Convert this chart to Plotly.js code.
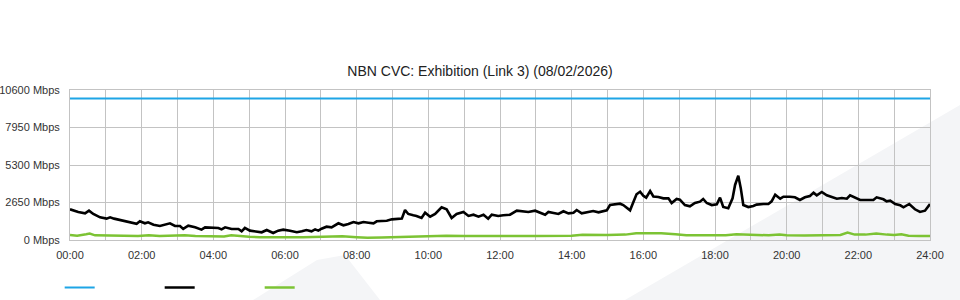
<!DOCTYPE html>
<html>
<head>
<meta charset="utf-8">
<script src="https://cdn.plot.ly/plotly-3.0.1.min.js"></script>
<style>
  html, body { margin: 0; padding: 0; background: #ffffff; }
  #chart { width: 960px; height: 300px; }
</style>
</head>
<body>
<div id="chart"></div>
<script>
// ---- data (time in hours since 00:00, values in Mbps) ----
const capacityTime = [0, 24];
const capacityMbps = [10000, 10000];

const trafficTime = [
  0.00,0.23,0.42,0.53,0.65,0.84,1.02,1.12,1.23,1.40,1.58,1.77,1.86,1.95,2.09,2.18,2.33,2.51,2.65,2.79,
  2.93,3.07,3.16,3.30,3.49,3.67,3.77,3.95,4.14,4.23,4.33,4.51,4.70,4.79,4.88,5.02,5.21,5.35,5.49,5.58,
  5.67,5.81,5.95,6.14,6.33,6.47,6.60,6.74,6.84,6.93,7.02,7.16,7.30,7.49,7.63,7.77,7.91,8.05,8.19,8.33,
  8.47,8.56,8.70,8.84,8.98,9.12,9.26,9.35,9.44,9.58,9.67,9.81,9.91,10.05,10.19,10.37,10.51,10.65,10.79,10.98,
  11.12,11.26,11.40,11.54,11.67,11.77,11.95,12.09,12.28,12.47,12.61,12.79,12.98,13.12,13.26,13.35,13.49,13.63,13.77,13.91,
  14.05,14.14,14.28,14.42,14.60,14.75,14.88,14.98,15.07,15.21,15.35,15.44,15.53,15.63,15.72,15.81,15.91,16.00,16.08,16.19,
  16.28,16.42,16.56,16.70,16.79,16.93,17.02,17.16,17.30,17.44,17.58,17.67,17.77,17.91,18.05,18.14,18.23,18.37,18.49,18.56,
  18.65,18.72,18.79,18.93,19.07,19.16,19.35,19.49,19.58,19.68,19.82,19.91,20.09,20.23,20.37,20.51,20.65,20.75,20.84,20.98,
  21.12,21.26,21.40,21.54,21.68,21.77,21.91,22.05,22.24,22.42,22.51,22.70,22.79,22.89,23.03,23.17,23.26,23.42,23.58,23.72,
  23.86,24.00
];
const trafficMbps = [
  2170,1980,1885,2070,1840,1600,1510,1600,1510,1410,1270,1150,1150,1320,1180,1250,1080,990,1080,1180,
  990,990,780,1010,895,730,895,850,850,750,895,780,780,615,850,660,590,545,705,590,
  495,660,730,660,545,615,705,615,750,660,800,940,895,1180,1040,1130,1270,1180,1270,1225,
  1180,1320,1320,1365,1460,1460,1510,2120,1840,1745,1700,1555,1930,1650,1840,2310,2170,1555,1840,1980,
  1700,1790,1650,1790,1510,1790,1700,1745,1790,2070,2030,1980,2070,1930,1790,1980,1885,1840,2030,1885,
  1930,2120,1885,1955,2050,1955,2050,2095,2470,2520,2565,2470,2285,2095,2660,3230,3415,3130,2990,3460,
  3080,3040,2945,2945,2615,2900,2850,2470,2380,2615,2710,2900,2615,2470,2520,2990,2330,2240,2945,3890,
  4545,3650,2470,2330,2400,2500,2545,2545,2730,3200,2920,3060,3060,3015,2830,3015,3110,3345,3155,3390,
  3155,3015,2920,2965,2920,3155,2965,2830,2830,2830,3015,2875,2730,2780,2545,2450,2310,2545,2170,1980,
  2070,2545
];

const uploadTime = [
  0,0.2,0.45,0.55,0.7,1.0,1.5,1.9,2.2,2.5,3.0,3.2,3.5,4.0,4.3,4.5,4.8,5.0,5.3,5.6,
  6.0,6.5,7.0,7.3,7.6,8.0,8.3,8.7,9.0,9.3,9.6,10.0,10.5,11.0,11.5,12.0,12.5,13.0,13.5,14.0,
  14.3,14.7,15.0,15.5,15.8,16.2,16.5,16.9,17.2,17.6,18.0,18.3,18.6,19.0,19.5,19.8,20.0,20.5,21.0,21.5,
  21.7,21.9,22.2,22.5,22.8,23.0,23.2,23.4,23.7,24.0
];
const uploadMbps = [
  350,300,400,450,330,300,300,280,330,280,300,330,280,280,250,330,260,230,200,180,
  200,200,210,260,260,200,160,180,200,260,280,280,300,280,300,290,290,280,290,300,
  375,350,350,380,470,480,470,400,330,330,300,330,400,350,330,380,330,320,350,350,
  520,380,380,450,380,350,400,300,280,280
];

const xTickVals = [0,2,4,6,8,10,12,14,16,18,20,22,24];
const xTickText = ["00:00","02:00","04:00","06:00","08:00","10:00","12:00","14:00","16:00","18:00","20:00","22:00","24:00"];
const yTickVals = [0,2650,5300,7950,10600];
const yTickText = ["0 Mbps","2650 Mbps","5300 Mbps","7950 Mbps","10600 Mbps"];

// ---- layout helpers (pixel -> paper) for the faint background watermark ----
const PL = 70, PR = 930, PT = 90, PB = 240;
function px(x) { return ((x - PL) / (PR - PL)).toFixed(4); }
function py(y) { return ((PB - y) / (PB - PT)).toFixed(4); }
const wm1 = `M ${px(625)} ${py(300)} L ${px(960)} ${py(105)} L ${px(960)} ${py(300)} Z`;
const wm2 = `M ${px(253)} ${py(300)} L ${px(317)} ${py(260)} L ${px(345)} ${py(255)} L ${px(380)} ${py(300)} Z`;

const gridCol = '#c3c3c3';
const font = { family: '"Liberation Sans", Arial, sans-serif', size: 11, color: '#333333' };

const traces = [
  { x: capacityTime, y: capacityMbps, name: '', type: 'scatter', mode: 'lines',
    line: { color: '#1ea5e6', width: 2.2 }, hoverinfo: 'skip' },
  { x: trafficTime, y: trafficMbps, name: '', type: 'scatter', mode: 'lines',
    line: { color: '#000000', width: 2.6 }, hoverinfo: 'skip' },
  { x: uploadTime, y: uploadMbps, name: '', type: 'scatter', mode: 'lines',
    line: { color: '#7cc334', width: 2.5 }, hoverinfo: 'skip' }
];

const layout = {
  width: 960, height: 300,
  margin: { l: PL, r: 960 - PR, t: PT, b: 300 - PB, pad: 0, autoexpand: false },
  paper_bgcolor: '#ffffff',
  plot_bgcolor: 'rgba(0,0,0,0)',
  font: font,
  title: { text: 'NBN CVC: Exhibition (Link 3) (08/02/2026)', x: 0.5, xref: 'container', y: 0.763, yref: 'container',
           xanchor: 'center', yanchor: 'middle',
           font: { family: '"Liberation Sans", Arial, sans-serif', size: 14, color: '#222222' } },
  xaxis: {
    range: [0, 24], tickvals: xTickVals, ticktext: xTickText, ticks: '',
    showgrid: true, gridcolor: gridCol, gridwidth: 1, zeroline: false,
    showline: true, linecolor: gridCol, linewidth: 1, mirror: true,
    minor: { dtick: 1, showgrid: true, gridcolor: gridCol, gridwidth: 1, ticks: '' },
    tickfont: { size: 11, color: '#333333' }, ticklabelstandoff: 5, fixedrange: true
  },
  yaxis: {
    range: [0, 10600], tickvals: yTickVals, ticktext: yTickText, ticks: '',
    showgrid: true, gridcolor: gridCol, gridwidth: 1, zeroline: false,
    showline: true, linecolor: gridCol, linewidth: 1, mirror: true,
    tickfont: { size: 11, color: '#333333' }, ticklabelstandoff: 7, fixedrange: true
  },
  showlegend: true,
  legend: { orientation: 'h', x: -0.012, xanchor: 'left', y: -0.22, yanchor: 'top',
            entrywidth: 55, entrywidthmode: 'pixels', bgcolor: 'rgba(0,0,0,0)',
            font: { size: 11 }, itemclick: false, itemdoubleclick: false },
  shapes: [
    { type: 'path', path: wm1, xref: 'paper', yref: 'paper', layer: 'below', fillcolor: '#f4f5f7', line: { width: 0 } },
    { type: 'path', path: wm2, xref: 'paper', yref: 'paper', layer: 'below', fillcolor: '#f4f5f7', line: { width: 0 } }
  ]
};

Plotly.newPlot('chart', traces, layout, { staticPlot: true, displayModeBar: false });
</script>
</body>
</html>
